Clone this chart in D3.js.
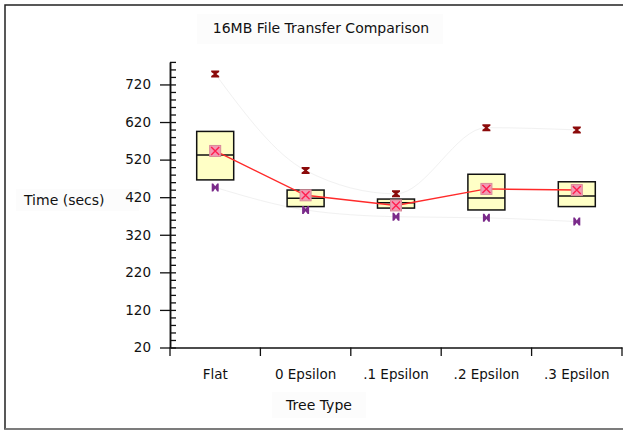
<!DOCTYPE html>
<html>
<head>
<meta charset="utf-8">
<script src="https://cdn.jsdelivr.net/npm/d3@7"></script>
<style>
  body { margin: 0; background: #fff; }
  text { font-family: "DejaVu Sans", sans-serif; fill: #111; }
</style>
</head>
<body>
<svg id="canvas" width="623" height="430"></svg>
<script>
// values
let categories = ["Flat", "0 Epsilon", ".1 Epsilon", ".2 Epsilon", ".3 Epsilon"];
let maxVals    = [748, 491, 429, 605, 599];
let q3Vals     = [595, 439, 415, 481, 461];
let medianVals = [532, 417, 405, 418, 423];
let q1Vals     = [466, 395, 391, 386, 395];
let meanVals   = [543, 425, 398, 442, 439];
let minVals    = [446, 386, 368, 365, 355];
let yMajorTicks = [20, 120, 220, 320, 420, 520, 620, 720];

let canvas = d3.select("#canvas");

// outer frame
canvas.append("rect")
    .attr("x", 5).attr("y", 5)
    .attr("width", 640).attr("height", 424)
    .attr("fill", "none")
    .attr("stroke", "#222")
    .attr("stroke-width", 1.5);
canvas.append("line")
    .attr("x1", 5).attr("x2", 623).attr("y1", 429).attr("y2", 429)
    .attr("stroke", "#888").attr("stroke-width", 1.5);

let x = d3.scaleBand().domain(categories).range([170, 622]).padding(0);
let y = d3.scaleLinear().domain([20, 780]).range([347.5, 61.9]);

let rows = categories.map((c, i) => ({
    cat: c, max: maxVals[i], q3: q3Vals[i], med: medianVals[i],
    q1: q1Vals[i], mean: meanVals[i], min: minVals[i]
}));
let cx = d => x(d.cat) + x.bandwidth() / 2;
let boxW = 37;

// title + axis labels with very faint backgrounds
let labelBox = (bx, by, w, h) => canvas.append("rect")
    .attr("x", bx).attr("y", by).attr("width", w).attr("height", h)
    .attr("fill", "#fcfcfc");
labelBox(197, 14, 246, 30);
labelBox(16, 189, 123, 22);
labelBox(272, 392, 94, 26);

canvas.append("text")
    .attr("x", 321).attr("y", 33)
    .attr("text-anchor", "middle")
    .style("font-size", "14px")
    .text("16MB File Transfer Comparison");
canvas.append("text")
    .attr("x", 24).attr("y", 205)
    .style("font-size", "14px")
    .text("Time (secs)");
canvas.append("text")
    .attr("x", 319).attr("y", 410)
    .attr("text-anchor", "middle")
    .style("font-size", "14px")
    .text("Tree Type");

// faint lines joining max and min markers
let faint = d3.line().x(cx).curve(d3.curveMonotoneX);
canvas.append("path")
    .datum(rows)
    .attr("d", faint.y(d => y(d.max)))
    .attr("fill", "none").attr("stroke", "#f1f1f1").attr("stroke-width", 1);
canvas.append("path")
    .datum(rows)
    .attr("d", faint.y(d => y(d.min)))
    .attr("fill", "none").attr("stroke", "#f1f1f1").attr("stroke-width", 1);

// y axis: labelled majors on the left, minor ticks on the right
let yAxis = canvas.append("g")
    .attr("transform", "translate(170,0)")
    .call(d3.axisLeft(y).tickValues(yMajorTicks).tickSizeInner(10).tickSizeOuter(0).tickPadding(9));
yAxis.selectAll("text").style("font-size", "13.5px");
canvas.append("g")
    .attr("transform", "translate(170,0)")
    .call(d3.axisRight(y).tickValues(d3.range(20, 781, 20)).tickSizeInner(6).tickSizeOuter(0).tickFormat(""));
canvas.selectAll(".domain").attr("stroke", "#111").attr("stroke-width", 1.5);
canvas.selectAll(".tick line").attr("stroke", "#111").attr("stroke-width", 1.3);

// x axis
let xAxis = canvas.append("g")
    .attr("transform", "translate(0,347.5)")
    .call(d3.axisBottom(x).tickSize(0).tickPadding(22));
xAxis.select(".domain").attr("stroke", "#111").attr("stroke-width", 1.5);
xAxis.selectAll("text").style("font-size", "13.5px");
let edges = categories.map(c => x(c)).concat([x.range()[1]]);
canvas.append("g").selectAll("line")
    .data(edges)
    .enter()
    .append("line")
    .attr("x1", d => d).attr("x2", d => d)
    .attr("y1", 347.5).attr("y2", 356)
    .attr("stroke", "#111").attr("stroke-width", 1.3);

// boxes
let boxes = canvas.append("g").selectAll("g")
    .data(rows)
    .enter()
    .append("g");
boxes.append("rect")
    .attr("x", d => cx(d) - boxW / 2)
    .attr("y", d => y(d.q3))
    .attr("width", boxW)
    .attr("height", d => y(d.q1) - y(d.q3))
    .attr("fill", "#ffffc6")
    .attr("stroke", "#111")
    .attr("stroke-width", 1.5);
boxes.append("line")
    .attr("x1", d => cx(d) - boxW / 2)
    .attr("x2", d => cx(d) + boxW / 2)
    .attr("y1", d => y(d.med))
    .attr("y2", d => y(d.med))
    .attr("stroke", "#111")
    .attr("stroke-width", 1.5);

// max markers (hourglass) and min markers (bowtie)
let hourglass = "M-4,-3.5L4,-3.5L4,-2L1.2,0L4,2L4,3.5L-4,3.5L-4,2L-1.2,0L-4,-2Z";
let bowtie = "M-3.5,-4L-2,-4L0,-1.2L2,-4L3.5,-4L3.5,4L2,4L0,1.2L-2,4L-3.5,4Z";
boxes.append("path")
    .attr("d", hourglass)
    .attr("transform", d => `translate(${cx(d)},${y(d.max)})`)
    .attr("fill", "#8b0a0a");
boxes.append("path")
    .attr("d", bowtie)
    .attr("transform", d => `translate(${cx(d)},${y(d.min)})`)
    .attr("fill", "#7a2a8a");

// mean line
canvas.append("path")
    .datum(rows)
    .attr("d", d3.line().x(cx).y(d => y(d.mean)))
    .attr("fill", "none")
    .attr("stroke", "#ff2a2a")
    .attr("stroke-width", 1.4);

// mean markers
let means = canvas.append("g").selectAll("g")
    .data(rows)
    .enter()
    .append("g")
    .attr("transform", d => `translate(${cx(d)},${y(d.mean)})`);
means.append("rect")
    .attr("x", -5.5).attr("y", -5.5)
    .attr("width", 11).attr("height", 11)
    .attr("fill", "#f29ab4")
    .attr("stroke", "#d98a9a")
    .attr("stroke-width", 1);
means.append("path")
    .attr("d", "M-4,-4L4,4M-4,4L4,-4")
    .attr("stroke", "#ff1f4f")
    .attr("stroke-width", 1.4);
</script>
</body>
</html>
